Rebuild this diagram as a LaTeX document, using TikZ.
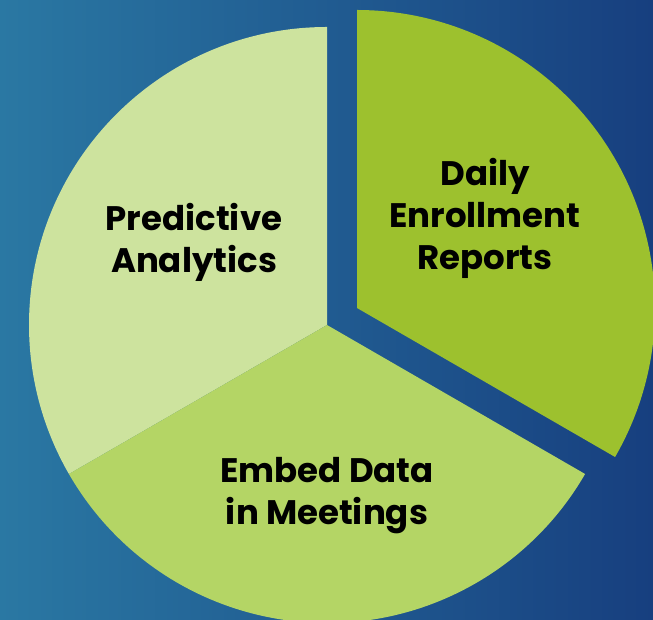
\documentclass[tikz,border=0pt]{standalone}
\usepackage{fontspec}
\setmainfont{Poppins}
\definecolor{bgleft}{HTML}{2A78A3}
\definecolor{bgright}{HTML}{173F7F}
\definecolor{slicelight}{HTML}{CDE39E}
\definecolor{slicemid}{HTML}{B4D565}
\definecolor{slicedark}{HTML}{9DC12E}
\tikzset{
  slicetext/.style={align=center, font=\fontsize{34}{42}\selectfont\bfseries, text=black, inner sep=0pt}
}
\begin{document}
\begin{tikzpicture}[x=1pt, y=1pt]
    \useasboundingbox (0,0) rectangle (653,620);
    % background
    \shade [left color=bgleft, right color=bgright] (0,0) rectangle (653,620);
    \begin{scope}
    \clip (0,0) rectangle (653,620);
    % pie slices
    \fill [slicelight] (327,295) -- ++(90:298) arc (90:210:298) -- cycle;
    \fill [slicemid] (327,295) -- ++(210:298) arc (210:330:298) -- cycle;
    \fill [slicedark] (357,312) -- ++(-30:298) arc (-30:90:298) -- cycle;
    \end{scope}
    % labels
    \node (predictive) [slicetext] at (194,378) {Predictive\\Analytics};
    \node (daily) [slicetext] at (485,402) {Daily\\Enrollment\\Reports};
    \node (embed) [slicetext] at (327,124) {Embed Data\\in Meetings};
\end{tikzpicture}
\end{document}
